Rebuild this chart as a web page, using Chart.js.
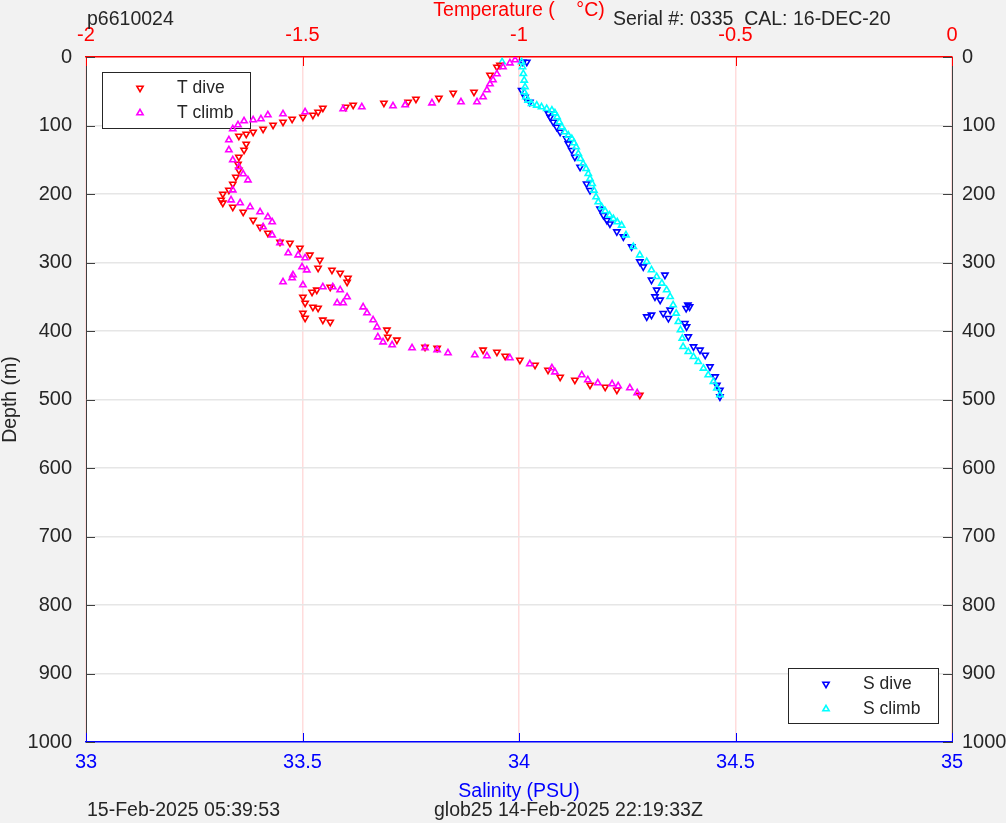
<!DOCTYPE html>
<html>
<head>
<meta charset="utf-8">
<script src="https://cdn.jsdelivr.net/npm/chart.js@4.4.1/dist/chart.umd.min.js"></script>
<style>
  html, body { margin: 0; padding: 0; background: #f2f2f2; }
</style>
</head>
<body>
<canvas id="ctd" width="1006" height="823"></canvas>
<script>

// temperature, dive (down triangles)
const tDiveDepth = [11.7, 14.6, 26.3, 51.1, 52.6, 59.9, 61.3, 65.7, 67.2, 70.1, 73.0, 74.5, 80.3, 84.7, 87.6, 90.5, 94.9, 99.3, 105.1, 109.5, 112.4, 115.3, 127.0, 135.8, 146.0, 156.2, 165.0, 175.2, 185.4, 194.2, 200.0, 208.8, 213.1, 219.0, 226.3, 238.0, 248.2, 256.9, 270.1, 271.5, 278.8, 289.0, 296.4, 308.0, 311.0, 315.3, 322.6, 328.5, 335.8, 340.1, 343.1, 350.4, 359.1, 365.0, 366.4, 373.7, 381.0, 383.9, 386.9, 398.5, 408.8, 413.1, 423.4, 424.8, 427.7, 430.7, 436.5, 442.3, 449.6, 457.0, 467.2, 471.5, 478.8, 481.8, 486.1, 493.4];
const tDiveTemp = [-1.044, -1.051, -1.067, -1.104, -1.152, -1.185, -1.238, -1.256, -1.312, -1.383, -1.400, -1.453, -1.464, -1.476, -1.499, -1.524, -1.545, -1.568, -1.591, -1.614, -1.630, -1.647, -1.630, -1.635, -1.647, -1.649, -1.647, -1.654, -1.661, -1.670, -1.684, -1.688, -1.684, -1.661, -1.637, -1.614, -1.598, -1.580, -1.552, -1.529, -1.506, -1.483, -1.460, -1.464, -1.432, -1.413, -1.395, -1.397, -1.436, -1.467, -1.478, -1.499, -1.494, -1.476, -1.464, -1.499, -1.494, -1.453, -1.436, -1.305, -1.303, -1.282, -1.217, -1.189, -1.083, -1.051, -1.032, -0.998, -0.963, -0.933, -0.905, -0.871, -0.836, -0.801, -0.774, -0.721];

// temperature, climb (up triangles)
const tClimbDepth = [4.4, 8.8, 14.6, 24.8, 33.6, 39.4, 48.2, 58.4, 65.7, 65.7, 67.2, 70.1, 71.5, 73.0, 75.9, 80.3, 83.2, 84.7, 90.5, 92.0, 93.4, 99.3, 105.1, 121.2, 135.8, 150.4, 160.6, 170.8, 179.6, 194.2, 208.8, 213.1, 219.0, 226.3, 233.6, 240.9, 248.2, 259.9, 271.5, 286.1, 289.1, 293.4, 306.6, 311.0, 318.2, 322.6, 328.5, 332.8, 335.8, 335.8, 340.1, 350.4, 359.1, 359.1, 365.0, 373.7, 383.9, 394.2, 408.8, 416.1, 420.4, 424.8, 424.8, 427.7, 432.1, 435.0, 436.5, 439.4, 448.2, 454.0, 459.9, 464.2, 471.5, 475.9, 477.4, 480.3, 483.2, 490.5];
const tClimbTemp = [-1.009, -1.021, -1.037, -1.051, -1.060, -1.067, -1.074, -1.083, -1.097, -1.134, -1.201, -1.263, -1.291, -1.363, -1.406, -1.494, -1.545, -1.580, -1.596, -1.614, -1.635, -1.649, -1.661, -1.670, -1.670, -1.661, -1.647, -1.637, -1.626, -1.661, -1.665, -1.644, -1.621, -1.598, -1.580, -1.570, -1.591, -1.570, -1.552, -1.533, -1.510, -1.494, -1.501, -1.490, -1.522, -1.524, -1.545, -1.499, -1.453, -1.430, -1.413, -1.397, -1.420, -1.406, -1.360, -1.351, -1.337, -1.328, -1.326, -1.314, -1.293, -1.247, -1.217, -1.189, -1.164, -1.102, -1.074, -1.021, -0.975, -0.924, -0.917, -0.855, -0.841, -0.818, -0.785, -0.771, -0.744, -0.727];

// salinity, dive
const sDiveDepth = [7.3, 7.3, 48.6, 58.4, 65.7, 82.8, 87.6, 94.9, 102.2, 109.5, 119.3, 126.6, 136.2, 146.0, 160.6, 185.0, 194.6, 221.5, 231.1, 238.4, 243.4, 255.0, 262.3, 276.9, 298.8, 306.1, 325.5, 340.1, 349.9, 354.7, 318.2, 362.0, 364.5, 366.9, 379.1, 376.6, 374.2, 381.5, 369.3, 388.8, 393.7, 408.3, 422.9, 427.7, 435.0, 452.1, 466.7, 478.8, 486.1, 495.9];
const sDiveSal = [34.009, 34.018, 34.006, 34.014, 34.025, 34.068, 34.072, 34.079, 34.087, 34.095, 34.110, 34.114, 34.122, 34.129, 34.141, 34.156, 34.164, 34.187, 34.195, 34.203, 34.210, 34.226, 34.241, 34.260, 34.279, 34.287, 34.306, 34.318, 34.314, 34.326, 34.337, 34.390, 34.394, 34.386, 34.295, 34.306, 34.333, 34.345, 34.349, 34.383, 34.387, 34.391, 34.403, 34.418, 34.430, 34.441, 34.453, 34.457, 34.464, 34.464];

// salinity, climb
const sClimbDepth = [7.3, 7.3, 14.6, 24.4, 34.0, 43.8, 51.1, 58.4, 63.2, 68.2, 70.5, 73.0, 75.5, 77.8, 81.8, 87.6, 94.9, 102.2, 109.5, 114.3, 119.3, 125.5, 131.4, 141.2, 148.5, 155.8, 163.1, 170.4, 177.7, 185.0, 194.6, 204.4, 211.7, 219.0, 224.8, 231.1, 236.1, 240.9, 245.7, 259.9, 276.9, 289.1, 298.8, 310.9, 320.7, 330.4, 340.1, 349.9, 362.0, 374.2, 386.4, 398.5, 410.7, 422.9, 430.2, 437.5, 444.8, 454.5, 464.2, 474.0, 483.6, 493.4];
const sClimbSal = [33.961, 34.006, 34.008, 34.010, 34.012, 34.014, 34.012, 34.016, 34.021, 34.029, 34.041, 34.052, 34.064, 34.076, 34.083, 34.088, 34.093, 34.099, 34.106, 34.114, 34.122, 34.127, 34.132, 34.137, 34.142, 34.148, 34.155, 34.160, 34.164, 34.169, 34.173, 34.178, 34.183, 34.191, 34.199, 34.209, 34.218, 34.227, 34.237, 34.247, 34.264, 34.279, 34.295, 34.306, 34.318, 34.330, 34.341, 34.349, 34.356, 34.363, 34.368, 34.373, 34.377, 34.379, 34.391, 34.403, 34.414, 34.426, 34.437, 34.449, 34.457, 34.464];

const tempRange = [-2, 0];
const salRange = [33, 35];
const depthRange = [0, 1000];

const seriesNames = ['T dive', 'T climb', 'S dive', 'S climb'];
const seriesColors = ['#ff0000', '#ff00ff', '#0000ff', '#00ffff'];

const topLeftText = 'p6610024';
const topRightText = 'Serial #: 0335  CAL: 16-DEC-20';
const bottomLeftText = '15-Feb-2025 05:39:53';
const bottomMidText = 'glob25 14-Feb-2025 22:19:33Z';

const FONT = '"Liberation Sans", Arial, sans-serif';
const TEXT = '#262626';
const MARK_R = 3.6;
const MARK_W = 1.6;

function pts(xs, ys) {
    return xs.map((v, i) => ({ x: v, y: ys[i] }));
}

// plain numbers: -2, -1.5, 33, 1000 (no trailing zeros, no thousands comma)
function plainTick(v) {
    return String(Math.round(v * 100) / 100);
}

function marker(ctx, x, y, down, color) {
    ctx.save();
    ctx.strokeStyle = color;
    ctx.fillStyle = 'rgba(0,0,0,0)';
    ctx.lineWidth = MARK_W;
    Chart.helpers.drawPoint(ctx, { pointStyle: 'triangle', rotation: down ? 180 : 0, radius: MARK_R, borderWidth: MARK_W }, x, y);
    ctx.restore();
}

// grey page + white plot box
const backdrop = {
    id: 'backdrop',
    beforeDraw(chart) {
        const { ctx, chartArea: a } = chart;
        ctx.save();
        ctx.fillStyle = '#f2f2f2';
        ctx.fillRect(0, 0, chart.width, chart.height);
        ctx.fillStyle = '#ffffff';
        ctx.fillRect(a.left, a.top, a.right - a.left, a.bottom - a.top);
        ctx.restore();
    }
};

// matlab style ticks pointing into the plot, plus the two legend boxes
const axesDecor = {
    id: 'axesDecor',
    beforeDatasetsDraw(chart) {
        const { ctx, chartArea: a, scales } = chart;
        const len = 9;
        ctx.save();
        ctx.lineWidth = 1;

        ctx.strokeStyle = '#ff0000';
        scales.xT.ticks.forEach((t) => {
            const x = Math.round(scales.xT.getPixelForValue(t.value)) + 0.5;
            ctx.beginPath(); ctx.moveTo(x, a.top); ctx.lineTo(x, a.top + len); ctx.stroke();
        });
        ctx.strokeStyle = '#0000ff';
        scales.xS.ticks.forEach((t) => {
            const x = Math.round(scales.xS.getPixelForValue(t.value)) + 0.5;
            ctx.beginPath(); ctx.moveTo(x, a.bottom); ctx.lineTo(x, a.bottom - len); ctx.stroke();
        });
        ctx.strokeStyle = '#404040';
        scales.y.ticks.forEach((t) => {
            const y = Math.round(scales.y.getPixelForValue(t.value)) + 0.5;
            ctx.beginPath(); ctx.moveTo(a.left, y); ctx.lineTo(a.left + len, y); ctx.stroke();
        });
        scales.y2.ticks.forEach((t) => {
            const y = Math.round(scales.y2.getPixelForValue(t.value)) + 0.5;
            ctx.beginPath(); ctx.moveTo(a.right, y); ctx.lineTo(a.right - len, y); ctx.stroke();
        });

        // legends
        ctx.font = '17.5px ' + FONT;
        ctx.textBaseline = 'middle';
        ctx.textAlign = 'left';
        const boxes = [
            { x: a.left + 16, y: a.top + 15, w: 148, h: 56, items: [0, 1] },
            { x: a.right - 164, y: a.bottom - 74, w: 150, h: 55, items: [2, 3] }
        ];
        boxes.forEach((b) => {
            ctx.fillStyle = '#ffffff';
            ctx.fillRect(b.x, b.y, b.w, b.h);
            ctx.lineWidth = 1;
            ctx.strokeStyle = TEXT;
            ctx.strokeRect(b.x + 0.5, b.y + 0.5, b.w, b.h);
            b.items.forEach((k, j) => {
                const yy = b.y + 16 + j * 25;
                marker(ctx, b.x + 38, yy, k % 2 === 0, seriesColors[k]);
                ctx.fillStyle = TEXT;
                ctx.fillText(seriesNames[k], b.x + 75, yy);
            });
        });
        ctx.restore();
    },
    afterDraw(chart) {
        const { ctx } = chart;
        ctx.save();
        ctx.font = '19.5px ' + FONT;
        ctx.fillStyle = TEXT;
        ctx.textBaseline = 'middle';
        ctx.textAlign = 'left';
        ctx.fillText(topLeftText, 87, 20);
        ctx.fillText(topRightText, 613, 20);
        ctx.fillText(bottomLeftText, 87, 811);
        ctx.fillText(bottomMidText, 434, 811);
        ctx.restore();
    }
};

function series(i, xs, ys, xAxis, down) {
    return {
        label: seriesNames[i], data: pts(xs, ys), xAxisID: xAxis, yAxisID: 'y',
        pointStyle: 'triangle', rotation: down ? 180 : 0,
        pointRadius: MARK_R, borderWidth: MARK_W,
        borderColor: seriesColors[i], backgroundColor: 'rgba(0,0,0,0)'
    };
}

const ctx = document.getElementById('ctd').getContext('2d');

new Chart(ctx, {
    type: 'scatter',
    data: {
        datasets: [
            series(1, tClimbTemp, tClimbDepth, 'xT', false),
            series(0, tDiveTemp, tDiveDepth, 'xT', true),
            series(3, sClimbSal, sClimbDepth, 'xS', false),
            series(2, sDiveSal, sDiveDepth, 'xS', true)
        ]
    },
    options: {
        responsive: false,
        animation: false,
        events: [],
        layout: { padding: 0 },
        plugins: {
            legend: { display: false },
            tooltip: { enabled: false }
        },
        scales: {
            xT: {
                type: 'linear', position: 'top',
                min: tempRange[0], max: tempRange[1],
                ticks: { stepSize: 0.5, color: '#ff0000', padding: 10, maxRotation: 0, font: { family: FONT, size: 20 }, callback: plainTick },
                grid: { color: '#ffdcdc', lineWidth: 1.5, drawTicks: false },
                border: { color: '#ff0000', width: 1.5 },
                title: { display: true, text: 'Temperature (    °C)', color: '#ff0000', font: { family: FONT, size: 19.5 }, padding: { top: -1, bottom: 0 } },
                afterFit: (s) => { s.height = 57; }
            },
            xS: {
                type: 'linear', position: 'bottom',
                min: salRange[0], max: salRange[1],
                ticks: { stepSize: 0.5, color: '#0000ff', padding: 8, maxRotation: 0, font: { family: FONT, size: 20 }, callback: plainTick },
                grid: { display: false, drawTicks: false },
                border: { color: '#0000ff', width: 1.5 },
                title: { display: true, text: 'Salinity (PSU)', color: '#0000ff', font: { family: FONT, size: 19.5 }, padding: { top: 0, bottom: 20 } },
                afterFit: (s) => { s.height = 81; }
            },
            y: {
                type: 'linear', position: 'left', reverse: true,
                min: depthRange[0], max: depthRange[1],
                ticks: { stepSize: 100, color: TEXT, padding: 14, font: { family: FONT, size: 20 }, callback: plainTick },
                grid: { color: '#e6e6e6', lineWidth: 1.5, drawTicks: false },
                border: { color: '#404040', width: 1 },
                title: { display: true, text: 'Depth (m)', color: TEXT, font: { family: FONT, size: 19.5 }, padding: { top: -1, bottom: 0 } },
                afterFit: (s) => { s.width = 86; }
            },
            y2: {
                type: 'linear', position: 'right', reverse: true,
                min: depthRange[0], max: depthRange[1],
                ticks: { stepSize: 100, color: TEXT, padding: 10, font: { family: FONT, size: 20 }, callback: plainTick },
                grid: { display: false, drawTicks: false },
                border: { color: '#404040', width: 1 },
                afterFit: (s) => { s.width = 54; }
            }
        }
    },
    plugins: [backdrop, axesDecor]
});

</script>
</body>
</html>
